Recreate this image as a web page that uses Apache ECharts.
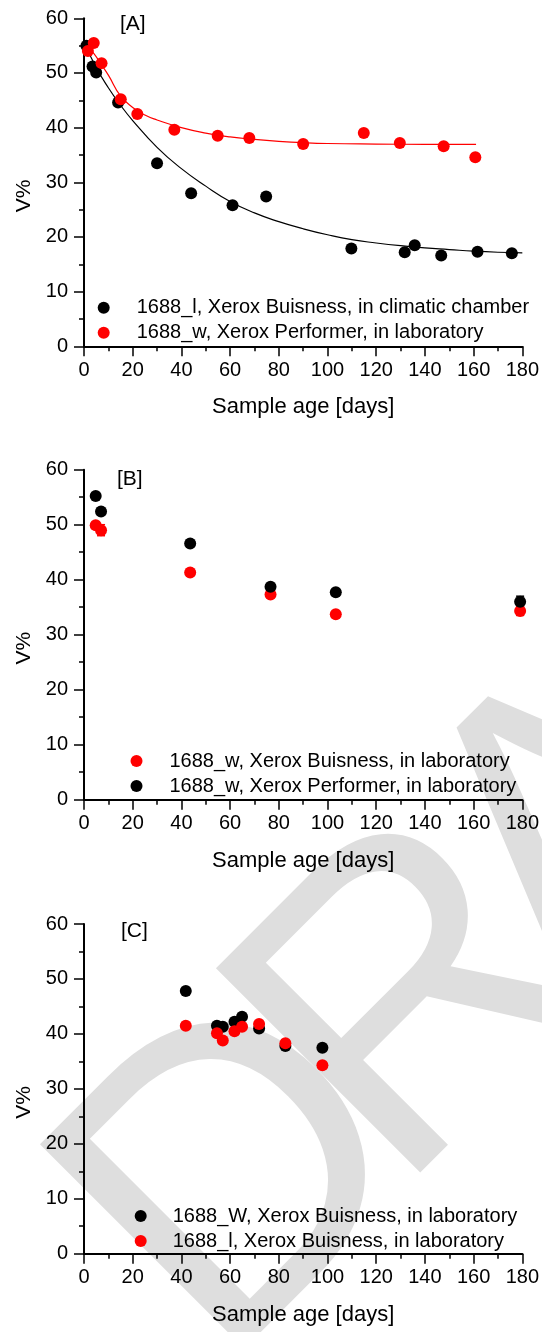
<!DOCTYPE html>
<html>
<head>
<meta charset="utf-8">
<script src="https://cdn.jsdelivr.net/npm/echarts@6/dist/echarts.min.js"></script>
<style>
  html, body { margin: 0; padding: 0; background: #fff; }
  #chart { width: 542px; height: 1332px; }
</style>
</head>
<body>
<div id="chart"></div>
<script>
// panel A
const daysA_l = [1, 3.5, 5.0, 14.0, 30.0, 44.0, 61.0, 74.8, 109.8, 131.7, 135.8, 146.7, 161.6, 175.7]
const valsA_l = [55.0, 51.2, 50.1, 44.6, 33.5, 28.0, 25.8, 27.4, 17.9, 17.2, 18.5, 16.6, 17.3, 17.0]
const daysA_w = [1.6, 4.0, 7.2, 15.1, 21.9, 37.1, 54.9, 67.9, 90.0, 114.9, 129.7, 147.7, 160.7]
const valsA_w = [54.0, 55.5, 51.8, 45.2, 42.5, 39.6, 38.5, 38.1, 37.0, 39.0, 37.2, 36.6, 34.6]
// fitted curves
const fitDaysA_l = [0, 5, 10, 15, 20, 30, 40, 50, 60, 70, 80, 90, 100, 110, 120, 130, 140, 150, 160, 170, 180]
const fitValsA_l = [55.6, 51.0, 47.3, 44.1, 41.3, 36.4, 32.5, 29.3, 26.5, 24.4, 22.8, 21.5, 20.4, 19.5, 18.9, 18.4, 18.0, 17.7, 17.4, 17.2, 17.1]
const fitDaysA_w = [1, 4, 7, 10, 15, 20, 25, 30, 40, 50, 60, 70, 80, 90, 100, 120, 140, 161]
const fitValsA_w = [55.0, 53.6, 51.6, 49.6, 45.8, 43.7, 42.3, 41.4, 40.0, 39.0, 38.3, 37.85, 37.5, 37.25, 37.1, 37.0, 36.95, 36.95]

// panel B
const daysB = [4.8, 7.0, 43.6, 76.6, 103.4, 179.1]
const valsB_bus = [49.9, 49.0, 41.3, 37.3, 33.7, 34.3]
const errB_bus = [0, 1.0, 0, 0, 0, 0.8]
const valsB_perf = [55.2, 52.4, 46.6, 38.7, 37.7, 36.0]
const errB_perf = [0, 0, 0, 0, 0, 1.0]

// panel C
const daysC = [41.8, 54.6, 57.0, 61.8, 64.9, 71.9, 82.7, 97.9]
const valsC_W = [47.8, 41.5, 41.3, 42.2, 43.1, 41.0, 37.8, 37.5]
const valsC_l = [41.5, 40.1, 38.8, 40.5, 41.3, 41.8, 38.3, 34.3]

const nameA_l = "1688_l, Xerox Buisness, in climatic chamber"
const nameA_w = "1688_w, Xerox Performer, in laboratory"
const nameB_bus = "1688_w, Xerox Buisness, in laboratory"
const nameB_perf = "1688_w, Xerox Performer, in laboratory"
const nameC_W = "1688_W, Xerox Buisness, in laboratory"
const nameC_l = "1688_l, Xerox Buisness, in laboratory"

// watermark letters and where each one sits (anchor of the letter box)
const wmLetters = ["D", "R", "A", "F", "T"]
const wmX = [138, 314, 495, 676, 857]
const wmY = [1291, 1115, 934, 753, 572]

const FONT = "'Liberation Sans', Arial, sans-serif"
const RED = "#ff0000"
const BLACK = "#000000"

const zip = (xs, ys) => xs.map((x, i) => [x, ys[i]])
const zip3 = (xs, ys, es) => xs.map((x, i) => [x, ys[i], es[i]])

const chart = echarts.init(document.getElementById("chart"), null, { renderer: "canvas" })

const grids = [
  { left: 84, top: 18.3, width: 440, height: 328 },
  { left: 84, top: 469.7, width: 440, height: 330 },
  { left: 84, top: 924, width: 440, height: 329.7 },
]

const makeX = (i) => ({
  type: "value",
  gridIndex: i,
  min: 0,
  max: 180,
  interval: 20,
  name: "Sample age [days]",
  nameLocation: "middle",
  nameGap: 50,
  nameTextStyle: { fontFamily: FONT, fontSize: 22, color: BLACK },
  axisLine: { show: true, onZero: false, lineStyle: { color: BLACK, width: 2 } },
  axisTick: { show: true, inside: false, length: 10, lineStyle: { color: BLACK, width: 1.5 } },
  minorTick: { show: true, splitNumber: 2, length: 5, lineStyle: { color: BLACK, width: 1.5 } },
  axisLabel: { fontFamily: FONT, fontSize: 20, color: BLACK, margin: 14 },
  splitLine: { show: false },
})

const makeY = (i) => ({
  type: "value",
  gridIndex: i,
  min: 0,
  max: 60,
  interval: 10,
  name: "V%",
  nameLocation: "middle",
  nameGap: 48,
  nameTextStyle: { fontFamily: FONT, fontSize: 21, color: BLACK, padding: [0, 27, 0, 0] },
  axisLine: { show: true, onZero: false, lineStyle: { color: BLACK, width: 2 } },
  axisTick: { show: true, inside: false, length: 10, lineStyle: { color: BLACK, width: 1.5 } },
  minorTick: { show: true, splitNumber: 2, length: 5, lineStyle: { color: BLACK, width: 1.5 } },
  axisLabel: { fontFamily: FONT, fontSize: 20, color: BLACK, margin: 16 },
  splitLine: { show: false },
})

const scatter = (name, i, data, color) => ({
  name: name,
  type: "scatter",
  xAxisIndex: i,
  yAxisIndex: i,
  data: data,
  symbol: "circle",
  symbolSize: 12,
  itemStyle: { color: color, opacity: 1 },
  emphasis: { disabled: true },
  z: 3,
})

const fitLine = (i, data, color) => ({
  type: "line",
  xAxisIndex: i,
  yAxisIndex: i,
  data: data,
  smooth: true,
  showSymbol: false,
  lineStyle: { color: color, width: 1.2 },
  emphasis: { disabled: true },
  z: 2,
})

const errorBars = (i, data, color) => ({
  type: "custom",
  xAxisIndex: i,
  yAxisIndex: i,
  data: data,
  z: 2,
  renderItem: (params, api) => {
    const x = api.value(0)
    const y = api.value(1)
    const e = api.value(2)
    if (!e) return
    const top = api.coord([x, y + e])
    const bot = api.coord([x, y - e])
    const st = { stroke: color, lineWidth: 1.5 }
    return {
      type: "group",
      children: [
        { type: "line", shape: { x1: top[0], y1: top[1], x2: bot[0], y2: bot[1] }, style: st },
        { type: "line", shape: { x1: top[0] - 4, y1: top[1], x2: top[0] + 4, y2: top[1] }, style: st },
        { type: "line", shape: { x1: bot[0] - 4, y1: bot[1], x2: bot[0] + 4, y2: bot[1] }, style: st },
      ],
    }
  },
})

const legend = (left, top, pad, items) => ({
  orient: "vertical",
  left: left,
  top: top,
  padding: 0,
  itemGap: 5,
  itemWidth: 12,
  itemHeight: 12,
  icon: "circle",
  selectedMode: false,
  textStyle: { fontFamily: FONT, fontSize: 20, lineHeight: 20, color: BLACK, padding: [0, 0, 0, pad] },
  data: items.map((it) => ({ name: it[0], itemStyle: { color: it[1] } })),
})

const panelLabel = (text, x, y) => ({
  type: "text",
  x: x,
  y: y,
  style: { text: text, font: "21px " + FONT, fill: BLACK, align: "left", verticalAlign: "middle" },
  z: 10,
})

const watermark = wmLetters.map((ch, i) => ({
  type: "text",
  x: wmX[i],
  y: wmY[i],
  rotation: Math.PI / 4,
  silent: true,
  z: -10,
  style: { text: ch, font: "420px " + FONT, fill: "#dedede", align: "left", verticalAlign: "middle" },
}))

const option = {
  backgroundColor: "#ffffff",
  animation: false,
  grid: grids,
  xAxis: [makeX(0), makeX(1), makeX(2)],
  yAxis: [makeY(0), makeY(1), makeY(2)],
  legend: [
    legend(97.7, 297.7, 22, [[nameA_l, BLACK], [nameA_w, RED]]),
    legend(130.5, 751, 22, [[nameB_bus, RED], [nameB_perf, BLACK]]),
    legend(134.7, 1206, 21, [[nameC_W, BLACK], [nameC_l, RED]]),
  ],
  graphic: watermark.concat([
    panelLabel("[A]", 120, 24.7),
    panelLabel("[B]", 117, 478.8),
    panelLabel("[C]", 121, 931),
  ]),
  series: [
    fitLine(0, zip(fitDaysA_l, fitValsA_l), BLACK),
    fitLine(0, zip(fitDaysA_w, fitValsA_w), RED),
    scatter(nameA_l, 0, zip(daysA_l, valsA_l), BLACK),
    scatter(nameA_w, 0, zip(daysA_w, valsA_w), RED),

    errorBars(1, zip3(daysB, valsB_bus, errB_bus), RED),
    errorBars(1, zip3(daysB, valsB_perf, errB_perf), BLACK),
    scatter(nameB_bus, 1, zip(daysB, valsB_bus), RED),
    scatter(nameB_perf, 1, zip(daysB, valsB_perf), BLACK),

    scatter(nameC_W, 2, zip(daysC, valsC_W), BLACK),
    scatter(nameC_l, 2, zip(daysC, valsC_l), RED),
  ],
}

chart.setOption(option)
</script>
</body>
</html>
